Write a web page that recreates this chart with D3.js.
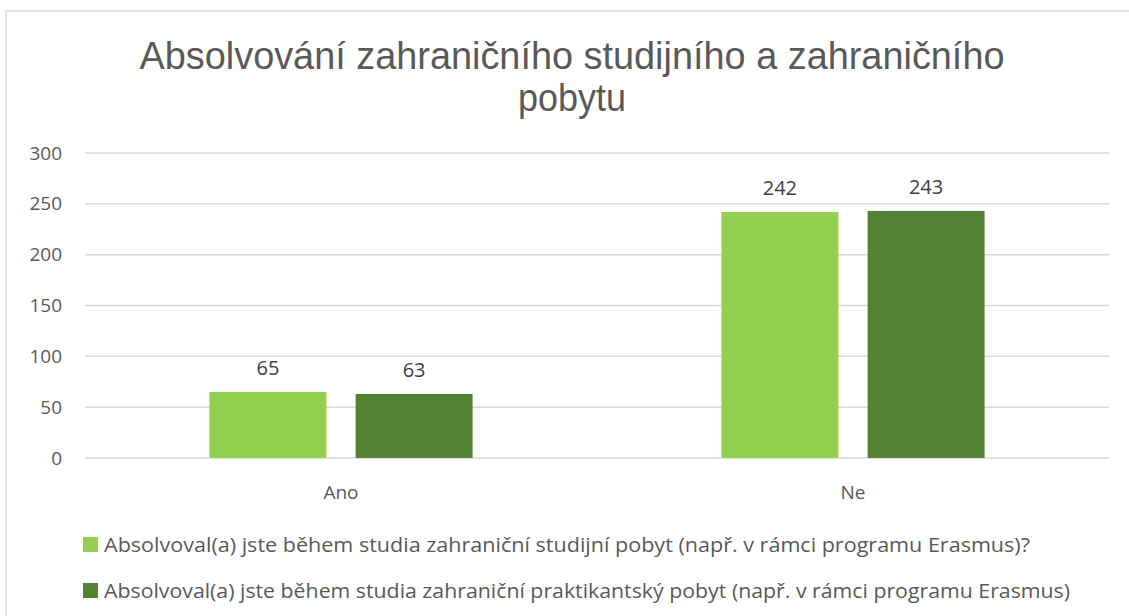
<!DOCTYPE html>
<html lang="cs">
<head>
<meta charset="UTF-8">
<script src="https://cdn.jsdelivr.net/npm/d3@7"></script>
<style>
  body { margin: 0; background: #fff; }
  svg { display: block; font-family: "Open Sans", "Liberation Sans", sans-serif; }
</style>
</head>
<body>
<script>
// data
const categories = ["Ano", "Ne"];
const seriesNames = [
  "Absolvoval(a) jste během studia zahraniční studijní pobyt (např. v rámci programu Erasmus)?",
  "Absolvoval(a) jste během studia zahraniční praktikantský pobyt (např. v rámci programu Erasmus)"
];
const studijni = [65, 242];
const praktikantsky = [63, 243];
const yTicks = [0, 50, 100, 150, 200, 250, 300];
const colors = ["#92D050", "#548235"];

const W = 1129, H = 616;
const svg = d3.select("body").append("svg").attr("width", W).attr("height", H);

// chart frame
svg.append("rect")
  .attr("x", 6).attr("y", 11).attr("width", W + 10).attr("height", H + 10)
  .attr("fill", "#fff").attr("stroke", "#D9D9D9").attr("stroke-width", 1.5);

// title
const title = svg.append("text")
  .attr("text-anchor", "middle")
  .attr("fill", "#595959")
  .style("font-family", "'Liberation Sans Narrow', 'Arial Narrow', 'Liberation Sans', sans-serif")
  .style("font-size", "38px");
title.append("tspan").attr("x", 572).attr("y", 69)
  .attr("textLength", 865).attr("lengthAdjust", "spacingAndGlyphs")
  .text("Absolvování  zahraničního studijního a zahraničního");
title.append("tspan").attr("x", 572).attr("y", 111)
  .attr("textLength", 108).attr("lengthAdjust", "spacingAndGlyphs")
  .text("pobytu");

// scales
const y = d3.scaleLinear().domain([0, 300]).range([458, 153]);
const x0 = d3.scaleBand().domain(categories).range([85, 1109])
  .paddingInner(0.486).paddingOuter(0.243);
const x1 = d3.scaleBand().domain([0, 1]).range([0, x0.bandwidth()]).paddingInner(0.2);

// gridlines
svg.append("g").selectAll("line").data(yTicks).join("line")
  .attr("x1", 85).attr("x2", 1109)
  .attr("y1", d => y(d)).attr("y2", d => y(d))
  .attr("stroke", "#D9D9D9").attr("stroke-width", 1.5);

// y axis labels
svg.append("g").selectAll("text").data(yTicks).join("text")
  .attr("x", 62).attr("y", d => y(d)).attr("dy", "0.35em")
  .attr("text-anchor", "end").attr("fill", "#595959")
  .style("font-size", "19px")
  .text(d => d);

// bars
const rows = categories.map((c, i) => ({ cat: c, vals: [studijni[i], praktikantsky[i]] }));
const groups = svg.append("g").selectAll("g").data(rows).join("g")
  .attr("transform", d => `translate(${x0(d.cat)},0)`);

groups.selectAll("rect").data(d => d.vals.map((v, s) => ({ v, s }))).join("rect")
  .attr("x", d => x1(d.s)).attr("width", x1.bandwidth())
  .attr("y", d => y(d.v)).attr("height", d => y(0) - y(d.v))
  .attr("fill", d => colors[d.s]);

groups.selectAll("text").data(d => d.vals.map((v, s) => ({ v, s }))).join("text")
  .attr("x", d => x1(d.s) + x1.bandwidth() / 2)
  .attr("y", d => y(d.v) - 17)
  .attr("text-anchor", "middle").attr("fill", "#404040")
  .style("font-size", "20px")
  .text(d => d.v);

// category labels
svg.append("g").selectAll("text").data(categories).join("text")
  .attr("x", d => x0(d) + x0.bandwidth() / 2).attr("y", 499)
  .attr("text-anchor", "middle").attr("fill", "#595959")
  .style("font-size", "19px")
  .text(d => d);

// legend
const legendW = [926, 966];
const legend = svg.append("g").selectAll("g").data(seriesNames).join("g")
  .attr("transform", (d, i) => `translate(83,${537 + i * 46})`);
legend.append("rect").attr("width", 15).attr("height", 15)
  .attr("fill", (d, i) => colors[i]);
legend.append("text")
  .attr("x", 21).attr("y", 8).attr("dy", "0.35em")
  .attr("fill", "#595959")
  .style("font-size", "20px")
  .attr("textLength", (d, i) => legendW[i]).attr("lengthAdjust", "spacingAndGlyphs")
  .text(d => d);
</script>
</body>
</html>
